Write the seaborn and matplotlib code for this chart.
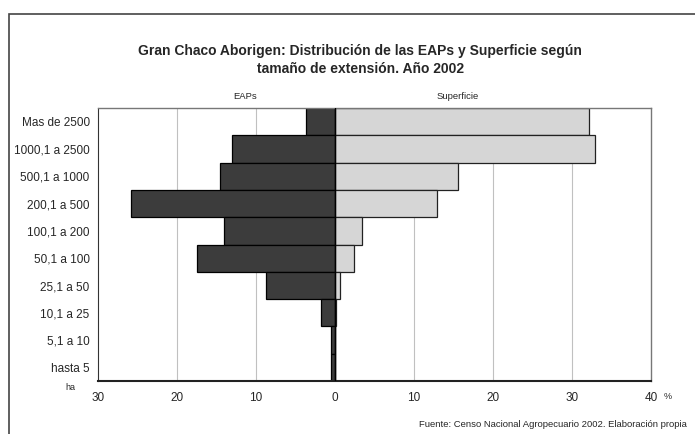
import numpy as np
import pandas as pd
import matplotlib
matplotlib.use("Agg")
import matplotlib.pyplot as plt
from matplotlib.patches import Rectangle
import seaborn as sns

# tamaño de extension (ha), de mayor a menor
categorias = ["Mas de 2500", "1000,1 a 2500", "500,1 a 1000", "200,1 a 500",
              "100,1 a 200", "50,1 a 100", "25,1 a 50", "10,1 a 25",
              "5,1 a 10", "hasta 5"]
eaps = [3.7, 13.0, 14.5, 25.8, 14.0, 17.5, 8.7, 1.75, 0.5, 0.5]
superficie = [32.1, 32.9, 15.6, 12.9, 3.45, 2.4, 0.65, 0.1, 0.05, 0.02]
xticks = [-30, -20, -10, 0, 10, 20, 30, 40]

sns.set_style("white")
plt.rcParams['font.family'] = ['Liberation Sans', 'DejaVu Sans']

df = pd.DataFrame({"cat": categorias,
                   "eaps": -np.array(eaps),
                   "sup": superficie})

fig = plt.figure(figsize=(6.95, 4.34), dpi=100)
ax = fig.add_axes([0.141, 0.122, 0.796, 0.629])

# grid lines first so bars go over
for t in [-20, -10, 10, 20, 30]:
    ax.axvline(t, color="#c0c0c0", lw=0.8, zorder=0)

sns.barplot(data=df, x="eaps", y="cat", order=categorias, color="#3c3c3c",
            saturation=1, width=1.0, edgecolor="black", linewidth=0.9, ax=ax, zorder=2)
sns.barplot(data=df, x="sup", y="cat", order=categorias, color="#d6d6d6",
            saturation=1, width=1.0, edgecolor="#222222", linewidth=0.9, ax=ax, zorder=2)

ax.set_xlim(-30, 40)
ax.set_ylim(9.5, -0.5)
ax.set_xticks(xticks)
ax.set_xticklabels([str(abs(t)) for t in xticks], fontsize=8.5)
ax.tick_params(axis="x", direction="out", length=4, width=1, color="#333333", pad=4)
ax.tick_params(axis="y", length=0, labelsize=8.5, pad=6)
ax.set_xlabel("")
ax.set_ylabel("")
ax.axvline(0, color="black", lw=1.0, zorder=3)

for side in ["top", "right"]:
    ax.spines[side].set_color("#777777")
    ax.spines[side].set_linewidth(1)
ax.spines["left"].set_color("#333333")
ax.spines["bottom"].set_color("#222222")
ax.spines["bottom"].set_linewidth(1.5)

fig.text(0.518, 0.862, "Gran Chaco Aborigen: Distribución de las EAPs y Superficie según\ntamaño de extensión. Año 2002",
         ha="center", va="center", fontsize=10, fontweight="bold", linespacing=1.4)
fig.text(0.3525, 0.777, "EAPs", ha="center", va="center", fontsize=6.8)
fig.text(0.659, 0.777, "Superficie", ha="center", va="center", fontsize=6.8)
fig.text(0.1007, 0.106, "ha", ha="center", va="center", fontsize=6.5)
fig.text(0.960, 0.087, "%", ha="center", va="center", fontsize=6.5)
fig.text(0.989, 0.021, "Fuente: Censo Nacional Agropecuario 2002. Elaboración propia",
         ha="right", va="center", fontsize=6.8)

# marco exterior del grafico
fig.patches.append(Rectangle((0.013, -0.1), 1.1, 1.068, transform=fig.transFigure,
                             fill=False, edgecolor="#444444", lw=1.2))

fig.savefig("out.png", dpi=100)
